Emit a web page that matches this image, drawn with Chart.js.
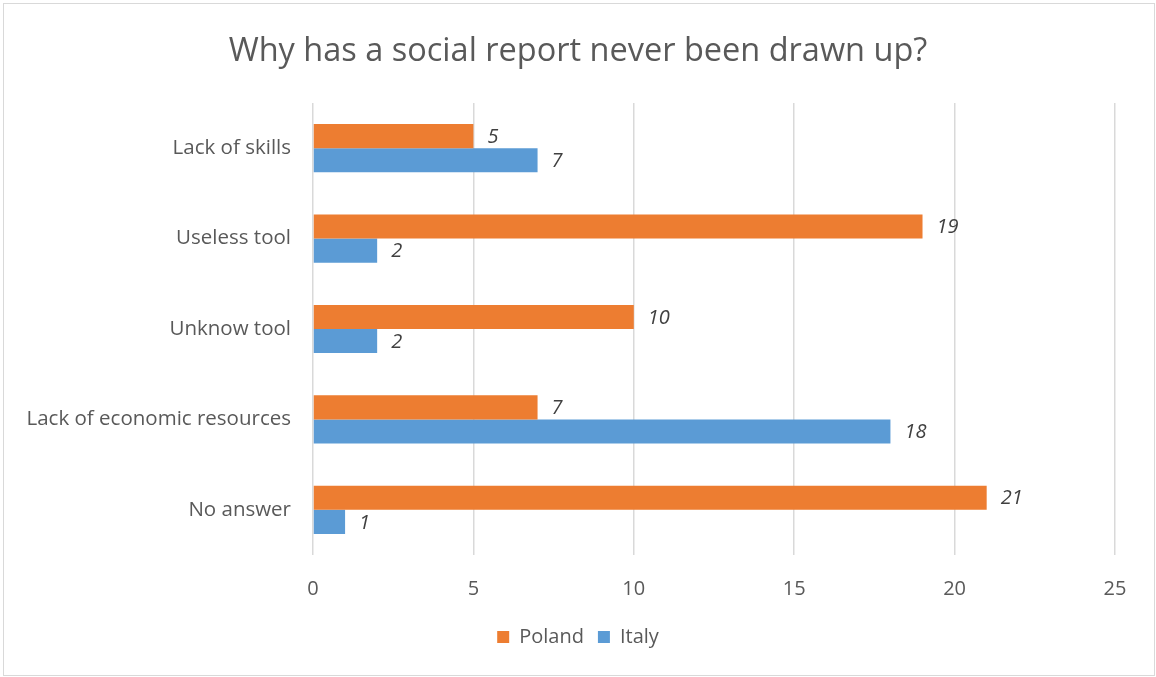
<!DOCTYPE html>
<html>
<head>
<meta charset="utf-8">
<script src="https://cdn.jsdelivr.net/npm/chart.js@4.4.0/dist/chart.umd.min.js"></script>
<style>
  html, body { margin: 0; padding: 0; background: #fff; }
  #wrap { position: absolute; left: 0; top: 0; width: 1156px; height: 677px; }
</style>
</head>
<body>
<div id="wrap"><canvas id="myChart" width="1156" height="677"></canvas></div>
<script>
// chart data
const categories = ['Lack of skills', 'Useless tool', 'Unknow tool', 'Lack of economic resources', 'No answer'];
const poland = [5, 19, 10, 7, 21];
const italy = [7, 2, 2, 18, 1];
const xTicks = [0, 5, 10, 15, 20, 25];

const FONT = '"Open Sans", Lato, sans-serif';
const TEXT = '#595959';

// draws the value next to the end of each bar
const valueLabels = {
  id: 'valueLabels',
  afterDatasetsDraw(chart) {
    const ctx = chart.ctx;
    ctx.save();
    ctx.font = 'italic 20px ' + FONT;
    ctx.fillStyle = '#404040';
    ctx.textAlign = 'left';
    ctx.textBaseline = 'middle';
    chart.data.datasets.forEach((ds, i) => {
      chart.getDatasetMeta(i).data.forEach((bar, j) => {
        ctx.fillText(ds.data[j], bar.x + 14, bar.y + 1);
      });
    });
    ctx.restore();
  }
};

// light frame round the chart
const frame = {
  id: 'frame',
  beforeDraw(chart) {
    const ctx = chart.ctx;
    ctx.save();
    ctx.strokeStyle = '#d9d9d9';
    ctx.lineWidth = 1;
    ctx.strokeRect(3.5, 3.5, chart.width - 5, chart.height - 5);
    ctx.restore();
  }
};

function createChart() {
  const ctx = document.getElementById('myChart').getContext('2d');
  new Chart(ctx, {
    type: 'bar',
    data: {
      labels: categories,
      datasets: [
        { label: 'Poland', data: poland, backgroundColor: '#ED7D31' },
        { label: 'Italy', data: italy, backgroundColor: '#5B9BD5' }
      ]
    },
    options: {
      indexAxis: 'y',
      responsive: false,
      animation: false,
      categoryPercentage: 0.533,
      barPercentage: 1,
      layout: { padding: { left: 3, right: 3, top: 10, bottom: 20 } },
      plugins: {
        title: {
          display: true,
          text: 'Why has a social report never been drawn up?',
          color: TEXT,
          font: { family: FONT, size: 32.5, weight: 'normal' },
          padding: { top: 22, bottom: 32 }
        },
        legend: {
          position: 'bottom',
          labels: {
            color: TEXT,
            font: { family: FONT, size: 20 },
            boxWidth: 12,
            boxHeight: 12,
            padding: 14
          }
        },
        tooltip: { enabled: false }
      },
      scales: {
        x: {
          min: 0,
          max: 25,
          afterBuildTicks(scale) { scale.ticks = xTicks.map(v => ({ value: v })); },
          afterFit(scale) { scale.height = 58; },
          grid: { color: '#d9d9d9', lineWidth: 1.5, drawTicks: false },
          border: { display: false },
          ticks: { color: TEXT, font: { family: FONT, size: 20 }, padding: 22 }
        },
        y: {
          afterFit(scale) { scale.width = 310; },
          grid: { display: false, drawTicks: false },
          border: { display: false },
          ticks: { color: TEXT, font: { family: FONT, size: 20.5 }, padding: 22 }
        },
        // empty axis on the right, only keeps room after the last tick
        yRight: {
          type: 'category',
          position: 'right',
          afterFit(scale) { scale.width = 38; },
          grid: { display: false, drawTicks: false },
          border: { display: false },
          ticks: { display: false }
        }
      }
    },
    plugins: [valueLabels, frame]
  });
}

createChart();
</script>
</body>
</html>
